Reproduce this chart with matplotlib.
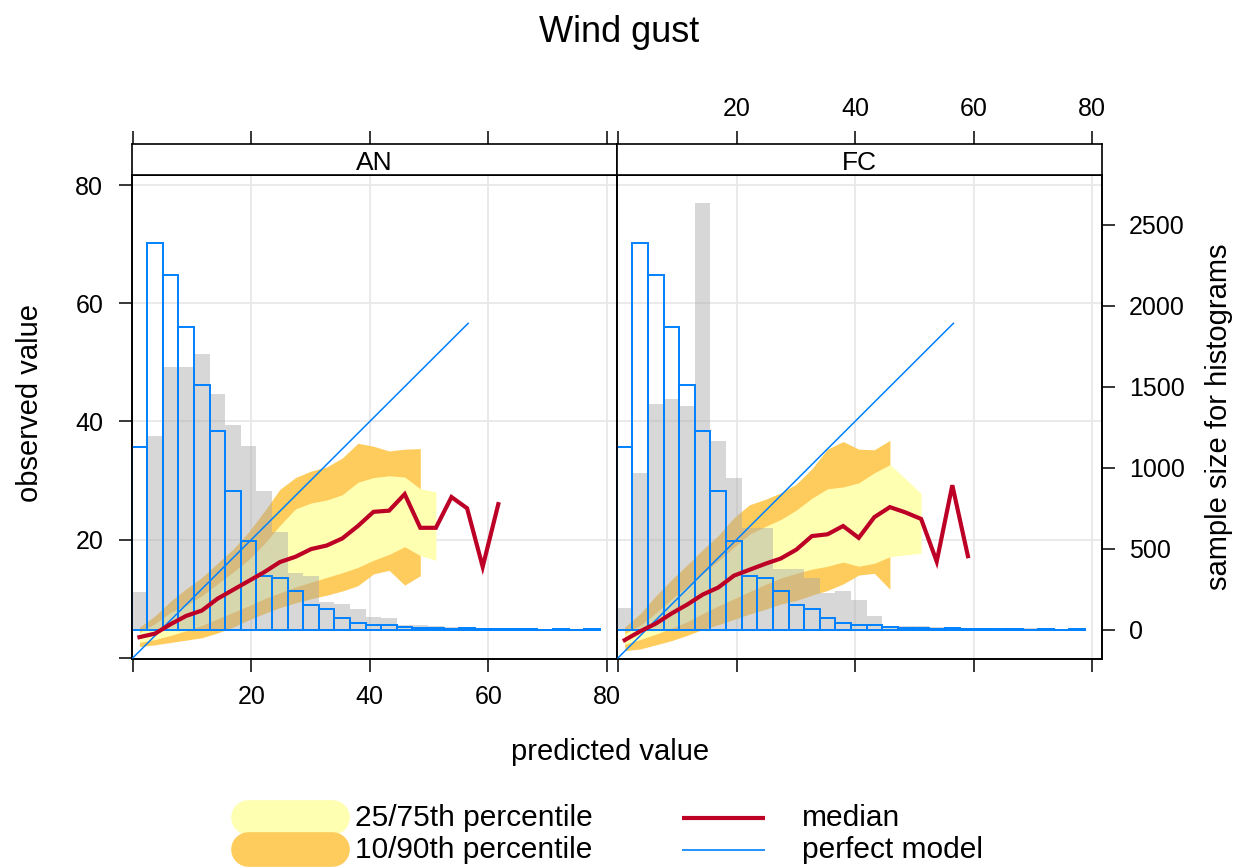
import numpy as np
import matplotlib
matplotlib.use("Agg")
import matplotlib.pyplot as plt
from matplotlib.lines import Line2D

plt.rcParams['font.family'] = ['Liberation Sans', 'DejaVu Sans']

# histogram breaks on the predicted value (shared by both panels)
hist_lo, hist_hi, n_bins = -0.2, 78.8, 30

# observed values histogram (same in both panels)
obs_counts = [1131, 2390, 2194, 1871, 1514, 1227, 855, 546, 334, 319,
              238, 153, 128, 72, 43, 30, 26, 17, 13, 11,
              6, 13, 3, 2, 5, 2, 1, 3, 1, 2]

# predicted values histograms
an_pred_counts = [234, 1199, 1620, 1620, 1701, 1454, 1263, 1136, 859, 604,
                  350, 330, 170, 160, 130, 80, 75, 26, 26, 22,
                  18, 15, 12, 10, 8, 8, 6, 5, 6, 4]
fc_pred_counts = [136, 970, 1395, 1425, 1383, 2636, 1165, 937, 630, 630,
                  373, 373, 321, 226, 240, 182, 82, 25, 25, 22,
                  15, 10, 12, 8, 5, 10, 8, 5, 3, 2]

# conditional quantiles of the observations, one value per bin
an_median = [3.5, 4.1, 5.7, 7.1, 8.0, 10.0, 11.5, 13.0, 14.5, 16.2, 17.1, 18.4,
             19.0, 20.2, 22.3, 24.7, 24.9, 27.7, 22.0, 22.0, 27.2, 25.3, 15.4, 26.0]
an_q25 = [2.6, 3.1, 3.8, 4.6, 5.5, 6.6, 7.7, 8.8, 10.0, 11.0, 12.0, 12.8,
          13.6, 14.4, 15.3, 16.5, 17.5, 18.8, 17.3, 16.5]
an_q75 = [4.3, 5.8, 7.7, 8.9, 10.5, 12.5, 14.5, 16.6, 19.3, 22.4, 25.2, 26.2,
          26.7, 27.6, 29.7, 30.5, 30.8, 30.6, 28.6, 28.1]
an_q10 = [1.9, 2.2, 2.6, 3.0, 3.4, 4.2, 5.2, 6.4, 7.5, 8.5, 9.3, 10.0,
          10.6, 11.3, 12.2, 14.2, 14.8, 12.3, 13.9]
an_q90 = [5.2, 7.1, 9.6, 11.7, 13.6, 16.0, 18.4, 21.3, 24.8, 28.5, 30.5, 31.6,
          32.3, 33.8, 36.3, 35.8, 35.0, 35.3, 35.4]

fc_median = [3.0, 4.5, 5.8, 7.5, 9.0, 10.7, 11.9, 13.9, 14.9, 15.9, 16.8, 18.3,
             20.6, 20.9, 22.3, 20.3, 23.8, 25.5, 24.6, 23.5, 16.3, 29.2, 17.2]
fc_q25 = [2.3, 3.1, 4.0, 5.0, 6.1, 7.5, 8.8, 10.0, 11.2, 12.4, 13.5, 14.3,
          15.0, 15.5, 16.2, 15.5, 16.0, 17.1, 17.4, 17.7]
fc_q75 = [4.1, 5.5, 7.6, 9.9, 12.1, 14.2, 16.4, 18.7, 20.9, 22.2, 23.4, 25.0,
          27.0, 28.6, 28.9, 29.6, 31.3, 32.7, 30.3, 27.8]
fc_q10 = [1.2, 1.5, 2.2, 2.9, 3.8, 4.8, 5.6, 6.5, 7.4, 8.2, 9.1, 9.7,
          10.6, 11.4, 12.5, 14.0, 14.3, 11.6]
fc_q90 = [5.2, 7.5, 10.5, 13.2, 15.7, 18.3, 20.7, 23.7, 25.9, 26.8, 27.9, 29.4,
          32.0, 35.3, 36.6, 35.3, 35.2, 36.8]

# perfect model line runs over the range of predictions
perfect_range = [0.0, 56.6]

panel_names = ["AN", "FC"]
panel_pred = [an_pred_counts, fc_pred_counts]
panel_quant = [(an_median, an_q10, an_q25, an_q75, an_q90),
               (fc_median, fc_q10, fc_q25, fc_q75, fc_q90)]

col_inner = "#FFFFB2"
col_outer = "#FECC5C"
col_median = "#BD0026"
col_blue = "#0080FF"

edges = np.linspace(hist_lo, hist_hi, n_bins + 1)
width = edges[1] - edges[0]
mids = edges[:-1] + width / 2

lim = (-0.2, 81.7)
count_lim = (-181, 2809)

fig = plt.figure(figsize=(12.48, 8.67), dpi=100)

x0, pw = 0.1055, 0.3888
py, ph = 0.2399, 0.5583
sh = 0.0358

tick_kw = dict(direction='out', length=9.5, width=1.1, labelsize=18)

for i, name in enumerate(panel_names):
    ax = fig.add_axes([x0 + i * pw, py, pw, ph])
    ax.set_xlim(lim)
    ax.set_ylim(lim)
    for s in ax.spines.values():
        s.set_linewidth(1.2)
    for g in [20, 40, 60, 80]:
        ax.axvline(g, color='#e8e8e8', lw=1.3, zorder=0)
        ax.axhline(g, color='#e8e8e8', lw=1.3, zorder=0)

    med, q10, q25, q75, q90 = panel_quant[i]
    ax.fill_between(mids[:len(q10)], q10, q90, color=col_outer, lw=0, zorder=1)
    ax.fill_between(mids[:len(q25)], q25, q75, color=col_inner, lw=0, zorder=2)

    # histograms on a count scale, lines drawn over them in value units
    tw = ax.twinx()
    tw.set_ylim(count_lim)
    tw.bar(edges[:-1], panel_pred[i], width=width, align='edge',
           color=(0.66, 0.66, 0.66), alpha=0.45, lw=0, zorder=1)
    tw.bar(edges[:-1], obs_counts, width=width, align='edge', fill=False,
           edgecolor=col_blue, lw=1.4, zorder=2)
    tw.plot(perfect_range, perfect_range, color=col_blue, lw=1.1,
            transform=ax.transData, zorder=3)
    tw.plot(mids[:len(med)], med, color=col_median, lw=3.0,
            transform=ax.transData, zorder=4, solid_joinstyle='miter')
    tw.set_ylim(count_lim)
    tw.set_xlim(lim)
    for s in tw.spines.values():
        s.set_linewidth(1.2)
    if i == 1:
        tw.set_yticks([0, 500, 1000, 1500, 2000, 2500])
        tw.tick_params(axis='y', left=False, right=True, labelleft=False,
                       labelright=True, pad=10, **tick_kw)
        tw.set_ylabel('sample size for histograms', fontsize=21, labelpad=14)
    else:
        tw.set_yticks([])
        tw.tick_params(axis='y', left=False, right=False)

    ax.set_xticks([0, 20, 40, 60, 80], ['', '20', '40', '60', '80'])
    ax.tick_params(axis='x', bottom=True, top=False, labelbottom=(i == 0), pad=9, **tick_kw)
    if i == 0:
        ax.set_yticks([0, 20, 40, 60, 80], ['', '20', '40', '60', '80'])
        ax.tick_params(axis='y', left=True, right=False, labelright=False,
                       pad=11, **tick_kw)
    else:
        ax.set_yticks([])
        ax.tick_params(axis='y', left=False, right=False)

    strip = fig.add_axes([x0 + i * pw, py + ph, pw, sh], sharex=ax)
    strip.set_yticks([])
    for s in strip.spines.values():
        s.set_linewidth(1.2)
    strip.tick_params(axis='x', bottom=False, labelbottom=False, top=True,
                      labeltop=(i == 1), pad=7, **tick_kw)
    strip.text(0.5, 0.4, name, transform=strip.transAxes, ha='center',
               va='center', fontsize=19)

fig.text(0.496, 0.962, 'Wind gust', ha='center', va='center', fontsize=26)
fig.text(0.4888, 0.1326, 'predicted value', ha='center', va='center', fontsize=21)
fig.text(0.024, 0.5352, 'observed value', ha='center', va='center',
         rotation=90, fontsize=21)

# key below the panels
W, H = 1248.0, 867.0
def key_line(xa, xb, y, color, lw, cap):
    fig.add_artist(Line2D([xa / W, xb / W], [1 - y / H, 1 - y / H],
                          transform=fig.transFigure, color=color, lw=lw,
                          solid_capstyle=cap))

key_line(248, 332, 817, col_inner, 25, 'round')
key_line(248, 332, 849, col_outer, 25, 'round')
key_line(682, 765, 818, col_median, 3.0, 'butt')
key_line(682, 765, 850, col_blue, 1.2, 'butt')
fig.text(355 / W, 1 - 818 / H, '25/75th percentile', ha='left', va='center', fontsize=21.5)
fig.text(355 / W, 1 - 850 / H, '10/90th percentile', ha='left', va='center', fontsize=21.5)
fig.text(802 / W, 1 - 818 / H, 'median', ha='left', va='center', fontsize=21.5)
fig.text(802 / W, 1 - 850 / H, 'perfect model', ha='left', va='center', fontsize=21.5)

fig.savefig('out.png', dpi=100)
